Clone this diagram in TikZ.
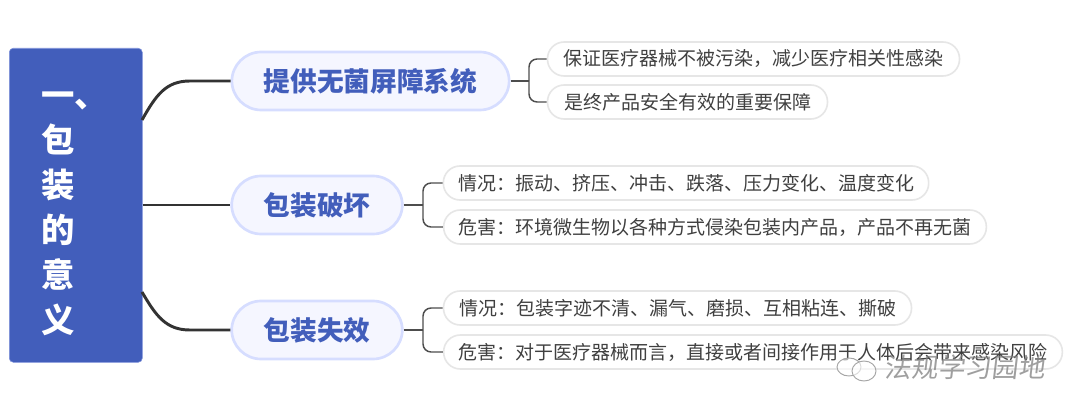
\documentclass[tikz,border=0pt]{standalone}
\usepackage{fontspec}
\setmainfont{Noto Sans CJK SC}
\definecolor{mainblue}{HTML}{425EBB}
\definecolor{mainedge}{HTML}{8093DC}
\definecolor{branchfill}{HTML}{F5F6FF}
\definecolor{branchline}{HTML}{D6DDFF}
\definecolor{leafline}{HTML}{E6E6E6}
\definecolor{leaftext}{HTML}{404040}
\definecolor{darkline}{HTML}{333333}
\definecolor{thinline}{HTML}{4D4D4D}
\tikzset{
	mainbox/.style={draw=mainedge,line width=.4pt,fill=mainblue,rounded corners=3pt,minimum width=99.75pt,minimum height=235.5pt},
	titletext/.style={text=white,font=\fontsize{25}{33.75}\selectfont\bfseries,text width=63pt,inner xsep=0pt,align=left},
	branchbox/.style={draw=branchline,fill=branchfill,line width=2pt,rounded corners=22pt,minimum height=43.5pt,text=mainblue,font=\fontsize{20}{24}\selectfont\bfseries},
	leafbox/.style={draw=leafline,fill=white,line width=1.2pt,rounded corners=12.5pt,minimum height=25.5pt,inner xsep=0pt,text=leaftext,font=\fontsize{14.25}{17}\selectfont},
	mainlink/.style={darkline,line width=2.2pt},
	leaflink/.style={thinline,line width=1.1pt,rounded corners=6pt},
}
\begin{document}
\begin{tikzpicture}[x=.75pt,y=-.75pt]
	\useasboundingbox (0,0) rectangle (1080,413);
	\fill[white] (0,0) rectangle (1080,413);
	\node[mainbox,anchor=north west] (main) at (9,48) {};
	\node[titletext,anchor=north west] (title) at (41,87.5) {一、\\包\\装\\的\\意\\义};
	\node[branchbox,minimum width=208pt] (sterile) at (370.5,81) {提供无菌屏障系统};
	\node[branchbox,minimum width=128pt] (damage) at (317,205) {包装破坏};
	\node[branchbox,minimum width=128pt] (failure) at (317,330) {包装失效};
	\node[leafbox,minimum width=309pt] (sterileA) at (753.5,59) {保证医疗器械不被污染，减少医疗相关性感染};
	\node[leafbox,minimum width=210pt] (sterileB) at (687.5,102) {是终产品安全有效的重要保障};
	\node[leafbox,minimum width=364pt] (damageA) at (686,183) {情况：振动、挤压、冲击、跌落、压力变化、温度变化};
	\node[leafbox,minimum width=407pt] (damageB) at (715,227) {危害：环境微生物以各种方式侵染包装内产品，产品不再无菌};
	\node[leafbox,minimum width=351pt] (failureA) at (677.5,308) {情况：包装字迹不清、漏气、磨损、互相粘连、撕破};
	\node[leafbox,minimum width=464pt] (failureB) at (753,352) {危害：对于医疗器械而言，直接或者间接作用于人体后会带来感染风险};
	\coordinate (mainup) at (142,120);
	\coordinate (maindown) at (142,292);
	\coordinate (joinS) at (529,81);
	\coordinate (joinD) at (423,205);
	\coordinate (joinF) at (423,330);
	\draw[mainlink] (mainup) .. controls (156,95) and (166,81) .. (190,81) -- (sterile.west);
	\draw[mainlink] (main.east |- damage.west) -- (damage.west);
	\draw[mainlink] (maindown) .. controls (156,316) and (166,330) .. (190,330) -- (failure.west);
	\foreach \b/\j in {sterile/joinS,damage/joinD,failure/joinF} {
		\draw[thinline,line width=1.1pt] (\b.east) -- (\j);
		\draw[leaflink] (\j) |- (\b A.west);
		\draw[leaflink] (\j) |- (\b B.west);
	}
	\node[text=gray,opacity=.75,font=\fontsize{20}{24}\selectfont,xslant=.12] (mark) at (966,367) {法规学习园地};
	\draw[gray!70,fill=white,fill opacity=.6,line width=.7pt] (849,367) ellipse (12 and 9);
	\draw[gray!70,fill=white,fill opacity=.6,line width=.7pt] (864,371) ellipse (12 and 10);
\end{tikzpicture}
\end{document}
